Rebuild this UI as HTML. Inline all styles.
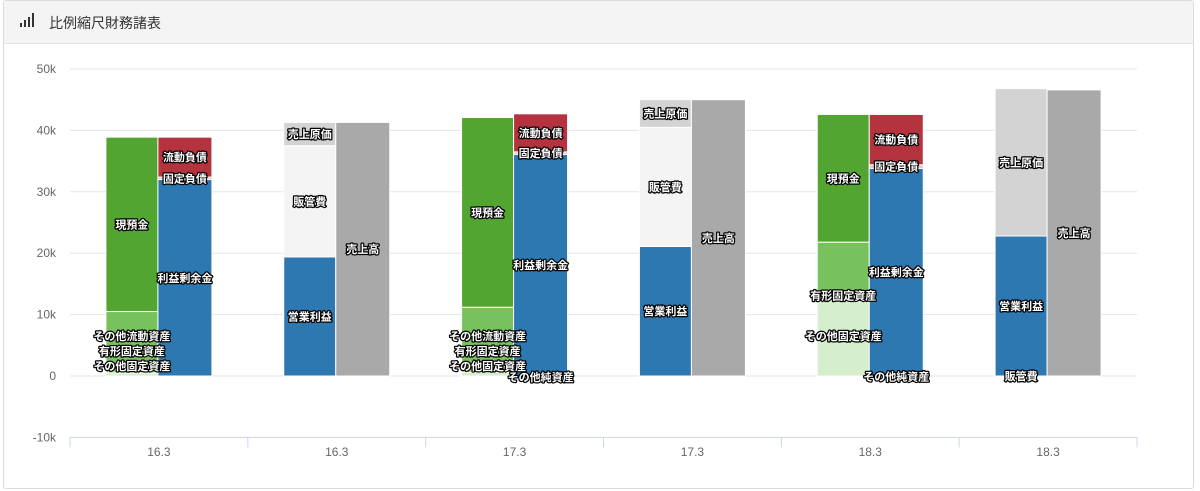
<!DOCTYPE html>
<html><head><meta charset="utf-8">
<style>
html,body{margin:0;padding:0;background:#fff;width:1200px;height:491px;overflow:hidden;font-family:"Liberation Sans","Noto Sans CJK JP",sans-serif;}
.card{position:absolute;left:3px;top:0;width:1191px;height:489px;border:1px solid #dcdcdc;border-radius:3px;box-sizing:border-box;}
.hdr{position:absolute;left:0;top:0;right:0;height:42px;background:#f4f4f4;border-bottom:1px solid #e2e2e2;}
.ttl{position:absolute;left:45px;top:12px;font-size:14px;color:#333;}
svg{position:absolute;left:0;top:0;}
</style></head><body>
<div class="card">
 <div class="hdr">
  <svg width="20" height="20" style="left:15px;top:11px">
   <rect x="1" y="11" width="2" height="4" fill="#333"/><rect x="5" y="8" width="2" height="7" fill="#333"/><rect x="9" y="5" width="2" height="10" fill="#333"/><rect x="13" y="1" width="2" height="14" fill="#333"/>
  </svg>
  <div class="ttl">比例縮尺財務諸表</div>
 </div>
</div>
<svg id="chart" width="1200" height="491"></svg>
<script>
const categories=["16.3","16.3","17.3","17.3","18.3","18.3"];
const yTicks=[-10,0,10,20,30,40,50];
const yTickLabels=["-10k","0","10k","20k","30k","40k","50k"];
// left stack (values in thousands)
const otherFixed=[0.5,null,0.6,null,13.0,null];
const tangible=[0.8,null,1.0,null,0.3,null];
const otherCurrent=[9.2,null,9.6,null,8.5,null];
const cash=[28.4,null,30.9,null,20.8,null];
const opProfit=[null,19.4,null,21.1,null,22.8];
const sga=[null,18.1,null,19.4,null,0];
const cogs=[null,3.8,null,4.5,null,24.0];
// right stack
const otherNet=[null,null,-0.3,null,-0.2,null];
const retained=[32.0,null,36.1,null,33.8,null];
const fixedLiab=[0.4,null,0.4,null,0.6,null];
const currentLiab=[6.5,null,6.2,null,8.2,null];
const sales=[null,41.3,null,45.0,null,46.6];

const leftSeries=[
 {n:"その他固定資産",d:otherFixed,c:"#d5eecb",key:"other-fixed-assets"},
 {n:"有形固定資産",d:tangible,c:"#9fd686",key:"tangible-fixed-assets"},
 {n:"その他流動資産",d:otherCurrent,c:"#78c25e",key:"other-current-assets"},
 {n:"現預金",d:cash,c:"#52a531",key:"cash"},
 {n:"営業利益",d:opProfit,c:"#2e78b2",key:"operating-profit"},
 {n:"販管費",d:sga,c:"#f4f4f4",key:"sga"},
 {n:"売上原価",d:cogs,c:"#d3d3d3",key:"cogs"}];
const rightSeries=[
 {n:"その他純資産",d:otherNet,c:"#2e78b2",key:"other-net-assets"},
 {n:"利益剰余金",d:retained,c:"#2e78b2",key:"retained-earnings"},
 {n:"固定負債",d:fixedLiab,c:"#f0c0c4",key:"fixed-liabilities"},
 {n:"流動負債",d:currentLiab,c:"#b5333e",key:"current-liabilities"},
 {n:"売上高",d:sales,c:"#a9a9a9",key:"sales"}];

const NS="http://www.w3.org/2000/svg";
const svg=document.getElementById("chart");
const X0=70,X1=1137,Y0=376,PX=6.14;
const y=v=>Y0-v*PX;
const cw=(X1-X0)/categories.length;
const cx=i=>X0+cw*i+cw/2;
function mk(t,a,p){const e=document.createElementNS(NS,t);for(const k in a)e.setAttribute(k,a[k]);(p||svg).appendChild(e);return e;}

yTicks.forEach((t,i)=>{
 if(t!==-10){const g=mk("line",{x1:X0,x2:X1,y1:y(t),y2:y(t),stroke:"#e6e6e6","stroke-width":1});
 
 }
 const tx=mk("text",{x:56,y:y(t)+4,"text-anchor":"end","font-size":12,fill:"#666"});
 tx.textContent=yTickLabels[i];
 
 
});
const ax=mk("line",{x1:X0,x2:X1,y1:y(-10),y2:y(-10),stroke:"#ccd6eb","stroke-width":1});


for(let i=0;i<=categories.length;i++){
 const tk=mk("line",{x1:X0+cw*i,x2:X0+cw*i,y1:y(-10),y2:y(-10)+10,stroke:"#ccd6eb"});
 
 
}
categories.forEach((c,i)=>{
 const t=mk("text",{x:cx(i),y:456,"text-anchor":"middle","font-size":12,fill:"#666"});
 t.textContent=c;
 
 
});

const labels=[];
function stack(series,i,x0,x1,clampBottom){
 let pos=0,neg=0;const labs=[];
 series.forEach(s=>{
  const v=s.d[i];if(v===null||v===undefined)return;
  let a,b;
  if(v<0){a=neg+v;b=neg;neg+=v;}else{a=pos;b=pos+v;pos+=v;}
  const r=mk("rect",{x:x0,y:y(b),width:x1-x0,height:Math.max(0,y(a)-y(b)),fill:s.c,stroke:"#fff","stroke-width":1});
  
  
  let ly=(y(a)+y(b))/2;
  if(v===0) ly=Y0;
  else if(clampBottom && v>0) ly=Math.min(ly,Y0-10);
  labs.push({n:s.n,y:ly+4,x:(x0+x1)/2,v:Math.abs(v)});
 });
 labs.sort((p,q)=>q.y-p.y);
 for(let k=1;k<labs.length;k++){if(labs[k-1].y-labs[k].y<15)labs[k].y=labs[k-1].y-15;}
 labs.forEach(l=>labels.push(l));
}
categories.forEach((c,i)=>{
 stack(leftSeries,i,cx(i)-53,cx(i)-1,true);
 stack(rightSeries,i,cx(i)-1,cx(i)+53,false);
});
// hide overlapping labels, bigger segments win
const placed=[];
labels.slice().sort((a,b)=>b.v-a.v).forEach(l=>{
 const w=l.n.length*11+4;
 const box={x0:l.x-w/2,x1:l.x+w/2,y0:l.y-9,y1:l.y+1};
 if(placed.some(p=>p.x0<box.x1&&box.x0<p.x1&&p.y0<box.y1&&box.y0<p.y1))return;
 placed.push(box);
 const t=mk("text",{x:l.x,y:l.y,"text-anchor":"middle","font-size":11,"font-weight":"bold",fill:"#fff",stroke:"#000","stroke-width":2.5,"paint-order":"stroke","stroke-linejoin":"round"});
 t.textContent=l.n;
 
 
});
</script>
</body></html>
